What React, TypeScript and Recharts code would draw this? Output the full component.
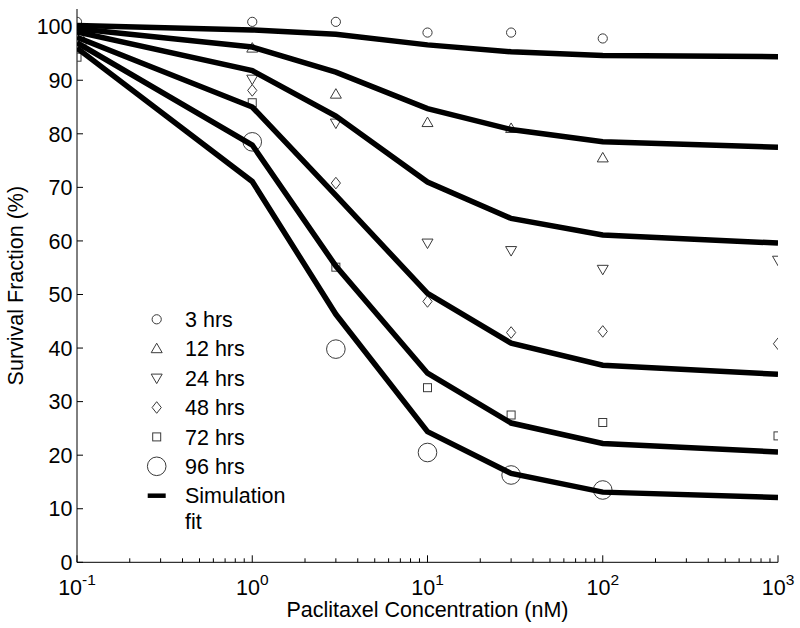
import React from 'react';
import { ScatterChart, Scatter, XAxis, YAxis, Legend, Label } from 'recharts';

// ---- data ----
const concentrations = [0.1, 1, 3, 10, 30, 100, 1000];

// simulation fits (one value per concentration)
const fit3h = [100.2, 99.4, 98.6, 96.6, 95.3, 94.6, 94.4];
const fit12h = [99.6, 96.2, 91.5, 84.7, 80.8, 78.5, 77.5];
const fit24h = [99.0, 91.8, 83.3, 71.0, 64.2, 61.1, 59.6];
const fit48h = [98.0, 85.0, 68.5, 50.2, 40.9, 36.8, 35.1];
const fit72h = [97.0, 77.9, 55.3, 35.3, 26.0, 22.2, 20.6];
const fit96h = [96.0, 71.1, 46.3, 24.4, 16.6, 13.1, 12.1];

// observed survival
const obs3hX = [0.1, 1, 3, 10, 30, 100];
const obs3hY = [100.9, 100.9, 100.9, 98.9, 98.9, 97.8];
const obs12hX = [0.1, 1, 3, 10, 30, 100];
const obs12hY = [99.3, 96.0, 87.4, 82.1, 81.0, 75.5];
const obs24hX = [1, 3, 10, 30, 100, 1000];
const obs24hY = [90.2, 82.0, 59.6, 58.2, 54.7, 56.4];
const obs48hX = [1, 3, 10, 30, 100, 1000];
const obs48hY = [88.1, 70.8, 48.7, 42.9, 43.1, 40.8];
const obs72hX = [0.1, 1, 3, 10, 30, 100, 1000];
const obs72hY = [94.3, 85.8, 55.1, 32.6, 27.5, 26.1, 23.6];
const obs96hX = [0.1, 1, 3, 10, 30, 100];
const obs96hY = [97.0, 78.5, 39.8, 20.5, 16.3, 13.5];

const seriesNames = ['3 hrs', '12 hrs', '24 hrs', '48 hrs', '72 hrs', '96 hrs'];
const seriesShapes = ['circle', 'triUp', 'triDown', 'diamond', 'square', 'bigCircle'];
const fitName = ['Simulation', 'fit'];

const yTicks = [0, 10, 20, 30, 40, 50, 60, 70, 80, 90, 100];
const decadeTicks = [0.1, 1, 10, 100, 1000];
const decadeExponents = ['-1', '0', '1', '2', '3'];
const minorMultipliers = [2, 3, 4, 5, 6, 7, 8, 9];

const xTitle = 'Paclitaxel Concentration (nM)';
const yTitle = 'Survival Fraction (%)';

// ---- derived ----
const pairs = (xs: number[], ys: number[]) => xs.map((x, i) => ({ x, y: ys[i] }));
const fits = [fit3h, fit12h, fit24h, fit48h, fit72h, fit96h].map((v) => pairs(concentrations, v));
const observed = [
  pairs(obs3hX, obs3hY),
  pairs(obs12hX, obs12hY),
  pairs(obs24hX, obs24hY),
  pairs(obs48hX, obs48hY),
  pairs(obs72hX, obs72hY),
  pairs(obs96hX, obs96hY),
];
const xTicks: number[] = [];
decadeTicks.forEach((d, i) => {
  xTicks.push(d);
  if (i < decadeTicks.length - 1) minorMultipliers.forEach((m) => xTicks.push(+(d * m).toPrecision(3)));
});
const isDecade = (v: number) => decadeTicks.some((d) => Math.abs(d - v) < 1e-9);

const FONT = '"Liberation Sans", Arial, Helvetica, sans-serif';
const MARK = '#3a3a3a';

function Marker({ kind, cx, cy }: { kind: string; cx: number; cy: number }) {
  const common = { fill: 'none', stroke: MARK, strokeWidth: 1 } as const;
  if (cx == null || cy == null || isNaN(cx) || isNaN(cy)) return <g />;
  switch (kind) {
    case 'circle':
      return <circle cx={cx} cy={cy} r={4.6} {...common} />;
    case 'bigCircle':
      return <circle cx={cx} cy={cy} r={9.3} {...common} />;
    case 'triUp':
      return <polygon points={`${cx},${cy - 5.5} ${cx - 5.5},${cy + 4} ${cx + 5.5},${cy + 4}`} {...common} />;
    case 'triDown':
      return <polygon points={`${cx},${cy + 5.5} ${cx - 5.5},${cy - 4} ${cx + 5.5},${cy - 4}`} {...common} />;
    case 'diamond':
      return <polygon points={`${cx},${cy - 5.8} ${cx + 4.6},${cy} ${cx},${cy + 5.8} ${cx - 4.6},${cy}`} {...common} />;
    case 'square':
      return <rect x={cx - 4} y={cy - 4} width={8} height={8} {...common} />;
    default:
      return <g />;
  }
}

const bottomTick = (p: any) => {
  const { x, y, payload } = p;
  const major = isDecade(payload.value);
  const idx = decadeTicks.findIndex((d) => Math.abs(d - payload.value) < 1e-9);
  return (
    <g>
      <line x1={x} y1={y} x2={x} y2={y - (major ? 7 : 4)} stroke="#000" strokeWidth={1} />
      {major && (
        <text x={x} y={y + 33} textAnchor="middle" fontFamily={FONT} fontSize={21.5} fill="#000">
          <tspan>10</tspan>
          <tspan dy={-10} fontSize={15.5}>{decadeExponents[idx]}</tspan>
        </text>
      )}
    </g>
  );
};

const topTick = (p: any) => {
  const { x, y, payload } = p;
  const major = isDecade(payload.value);
  return <line x1={x} y1={y} x2={x} y2={y + (major ? 7 : 4)} stroke="#000" strokeWidth={1} />;
};

const leftTick = (p: any) => {
  const { x, y, payload } = p;
  return (
    <g>
      <line x1={x} y1={y} x2={x + 6} y2={y} stroke="#000" strokeWidth={1} />
      <text x={x - 4.5} y={y} dy="0.36em" textAnchor="end" fontFamily={FONT} fontSize={21.5} fill="#000">
        {payload.value}
      </text>
    </g>
  );
};

const rightTick = (p: any) => {
  const { x, y } = p;
  return <line x1={x} y1={y} x2={x - 6} y2={y} stroke="#000" strokeWidth={1} />;
};

const XTitle = (props: any) => {
  const vb = props.viewBox;
  return (
    <text x={vb.x + vb.width / 2} y={vb.y + 55} textAnchor="middle" fontFamily={FONT} fontSize={21.5} fill="#000">
      {xTitle}
    </text>
  );
};

const YTitle = (props: any) => {
  const vb = props.viewBox;
  const x = vb.x + 23;
  const y = vb.y + vb.height / 2;
  return (
    <text x={x} y={y} transform={`rotate(-90, ${x}, ${y})`} textAnchor="middle" fontFamily={FONT} fontSize={21.5} fill="#000">
      {yTitle}
    </text>
  );
};

const LegendBox = () => {
  const rowH = 29.4;
  const mx = 16.7;
  const tx = 45;
  const y0 = 19.3;
  return (
    <svg width={220} height={240} style={{ display: 'block', overflow: 'visible' }}>
      {seriesNames.map((name, i) => (
        <g key={name}>
          <Marker kind={seriesShapes[i]} cx={mx} cy={y0 + i * rowH} />
          <text x={tx} y={y0 + i * rowH} dy="0.36em" fontFamily={FONT} fontSize={21.5} fill="#000">
            {name}
          </text>
        </g>
      ))}
      <line x1={mx - 9} x2={mx + 9} y1={y0 + 6 * rowH} y2={y0 + 6 * rowH} stroke="#000" strokeWidth={4.5} />
      <text x={tx} y={y0 + 6 * rowH} dy="0.36em" fontFamily={FONT} fontSize={21.5} fill="#000">
        {fitName[0]}
      </text>
      <text x={tx} y={y0 + 6 * rowH + 26} dy="0.36em" fontFamily={FONT} fontSize={21.5} fill="#000">
        {fitName[1]}
      </text>
    </svg>
  );
};

export default function App() {
  return (
    <div style={{ position: 'absolute', left: 0, top: 0, width: 800, height: 628, background: '#fff', fontFamily: FONT }}>
      <ScatterChart width={800} height={628} margin={{ top: 9, right: 22, bottom: 0, left: 0 }}>
        <XAxis
          xAxisId={0}
          dataKey="x"
          type="number"
          scale="log"
          domain={[0.1, 1000]}
          allowDataOverflow
          ticks={xTicks}
          interval={0}
          height={65.7}
          tickSize={0}
          tickMargin={0}
          tickLine={false}
          axisLine={{ stroke: '#000', strokeWidth: 1 }}
          tick={bottomTick}
        >
          <Label content={XTitle} />
        </XAxis>
        <XAxis
          xAxisId="top"
          orientation="top"
          type="number"
          scale="log"
          domain={[0.1, 1000]}
          allowDataOverflow
          ticks={xTicks}
          interval={0}
          height={0}
          tickSize={0}
          tickMargin={0}
          tickLine={false}
          axisLine={{ stroke: '#000', strokeWidth: 1 }}
          tick={topTick}
        />
        <YAxis
          yAxisId={0}
          dataKey="y"
          type="number"
          domain={[0, 103.3]}
          allowDataOverflow
          ticks={yTicks}
          interval={0}
          width={77}
          tickSize={0}
          tickMargin={0}
          tickLine={false}
          axisLine={{ stroke: '#000', strokeWidth: 1 }}
          tick={leftTick}
        >
          <Label content={YTitle} />
        </YAxis>
        <YAxis
          yAxisId="right"
          orientation="right"
          type="number"
          domain={[0, 103.3]}
          allowDataOverflow
          ticks={yTicks}
          interval={0}
          width={0}
          tickSize={0}
          tickMargin={0}
          tickLine={false}
          axisLine={{ stroke: '#000', strokeWidth: 1 }}
          tick={rightTick}
        />
        {observed.map((d, i) => (
          <Scatter
            key={'obs' + i}
            name={seriesNames[i]}
            data={d}
            xAxisId={0}
            yAxisId={0}
            isAnimationActive={false}
            shape={(p: any) => <Marker kind={seriesShapes[i]} cx={p.cx} cy={p.cy} />}
          />
        ))}
        {fits.map((d, i) => (
          <Scatter
            key={'fit' + i}
            name={'fit' + i}
            data={d}
            xAxisId={0}
            yAxisId={0}
            isAnimationActive={false}
            line={{ stroke: '#000', strokeWidth: 5.5 }}
            lineJointType="linear"
            legendType="none"
            shape={() => <g />}
          />
        ))}
        <Legend
          layout="vertical"
          align="center"
          verticalAlign="middle"
          wrapperStyle={{ position: 'absolute', left: 140, top: 300, width: 220, height: 240 }}
          content={LegendBox}
        />
      </ScatterChart>
    </div>
  );
}
